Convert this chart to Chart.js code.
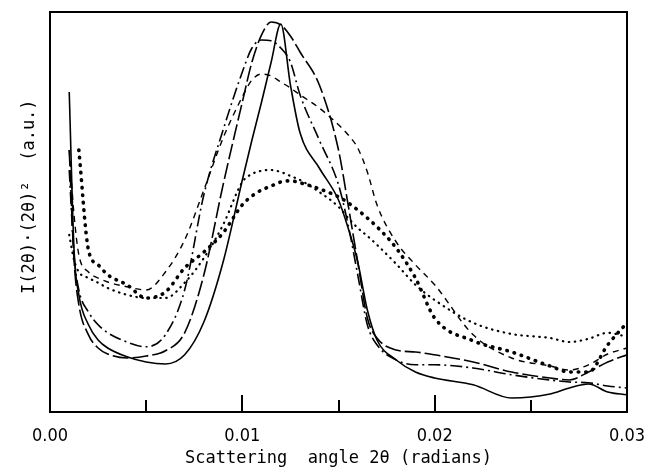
<!DOCTYPE html>
<html>
<head>
<meta charset="utf-8">
<script src="https://cdn.jsdelivr.net/npm/chart.js@4/dist/chart.umd.min.js"></script>
<style>
  html, body { margin: 0; padding: 0; background: #fff; }
  #wrap { width: 645px; height: 467px; }
</style>
</head>
<body>
<div id="wrap"><canvas id="scatterChart"></canvas></div>
<script>
// --- DATA (intensity in arbitrary units, 0..100) ---
const angles = [0.001, 0.00125, 0.0015, 0.002, 0.0025, 0.003, 0.004, 0.005, 0.006, 0.007,
                0.008, 0.009, 0.010, 0.0105, 0.011, 0.0115, 0.012, 0.0125, 0.013, 0.014,
                0.015, 0.0155, 0.016, 0.0165, 0.017, 0.018, 0.019, 0.020, 0.022, 0.024,
                0.026, 0.027, 0.028, 0.029, 0.030];

const solidCurve = [80, 40.5, 29.3, 21.8, 18, 16, 13.8, 12.5, 12, 14.3,
                    22.5, 37.5, 58, 68, 77.5, 87.5, 97, 81.8, 69.8, 61,
                    53, 46, 37.5, 25.5, 18, 13, 10, 8.5, 6.8, 3.5,
                    4.5, 6, 7, 5, 4.3];

const longDashCurve = [65.5, 38, 26.8, 19.3, 16, 14.5, 13.5, 14, 15.3, 19.8,
                       34.3, 56.8, 77.5, 87.5, 94.3, 97.5, 96.8, 94, 90, 81.8,
                       65.5, 51.8, 37.5, 23.5, 18.5, 15.5, 15, 14.3, 12.5, 10,
                       8.5, 8, 10, 12.5, 14.3];

const dashDotCurve = [60.5, 39.3, 30.5, 25, 21.8, 19.8, 17.5, 16.3, 19.3, 30.5,
                      54.3, 70.5, 85, 91, 93, 92.8, 91, 87.5, 79.3, 68,
                      56.8, 46.8, 34.3, 21.8, 16.8, 13, 11.8, 11.8, 11, 9.3,
                      8, 7.5, 7.3, 6.5, 6];

const shortDashCurve = [65.5, 49.3, 39.3, 35, 33.5, 32.5, 31.3, 30.5, 35, 43,
                        55.5, 68.5, 78.8, 83, 84.5, 84, 82.5, 81, 79.3, 76,
                        71.8, 69.3, 66, 60, 51.8, 42.5, 36.8, 31.8, 19.3, 13.5,
                        11.5, 10.5, 11.8, 14.5, 16];

const fineDotCurve = [44.3, 38, 35, 33.5, 32.3, 31, 29.3, 28.5, 28.5, 32.3,
                      38.5, 46.8, 57.5, 59.5, 60.3, 60.5, 60, 59, 58, 55,
                      51.3, 48.5, 46, 44, 41.8, 37, 31.8, 28, 22.3, 19.5,
                      18.5, 17.5, 18.3, 19.8, 18.8];

const heavyDotCurve = [null, null, 65.5, 40.5, 36.8, 34.3, 31.8, 28.5, 30, 36,
                       40, 44.8, 51.8, 54, 55.5, 56.5, 57.5, 57.8, 57.3, 55.8,
                       53.8, 52.3, 50.5, 48.5, 46.3, 41, 33.5, 23.5, 17.8, 15,
                       11.5, 10, 10, 16.8, 22.3];

const xTickStep = 0.005;

document.addEventListener('DOMContentLoaded', () => {
    const toPoints = values => angles.map((a, i) => ({ x: a, y: values[i] }));

    // --- FRAME AND INWARD TICK MARKS ---
    const frameTicks = {
        id: 'frameTicks',
        afterDraw(chart) {
            const { ctx, chartArea, scales } = chart;
            const { left, right, top, bottom } = chartArea;
            const x = scales.x;
            ctx.save();
            ctx.strokeStyle = '#000';
            ctx.lineWidth = 2;
            ctx.strokeRect(left, top, right - left, bottom - top);
            x.ticks.forEach(t => {
                if (t.value <= x.min + 1e-9 || t.value >= x.max - 1e-9) return;
                const px = Math.round(x.getPixelForValue(t.value));
                const major = t.label !== '';
                ctx.beginPath();
                ctx.moveTo(px, bottom);
                ctx.lineTo(px, bottom - (major ? 17 : 12));
                ctx.stroke();
            });
            ctx.restore();
        }
    };

    const lineStyle = (label, values, dash, width, cap) => ({
        label: label,
        data: toPoints(values),
        borderColor: '#000',
        borderWidth: width,
        borderDash: dash,
        borderCapStyle: cap || 'butt',
        pointRadius: 0,
        fill: false,
        cubicInterpolationMode: 'monotone',
        spanGaps: false
    });

    new Chart(document.getElementById('scatterChart'), {
        type: 'line',
        data: {
            datasets: [
                lineStyle('solid', solidCurve, [], 1.6),
                lineStyle('long dash', longDashCurve, [16, 4], 1.6),
                lineStyle('dash dot', dashDotCurve, [12, 4, 2, 4], 1.6),
                lineStyle('short dash', shortDashCurve, [6, 5], 1.4),
                lineStyle('fine dots', fineDotCurve, [0.5, 5.5], 2.2, 'round'),
                lineStyle('heavy dots', heavyDotCurve, [0.5, 7], 3.6, 'round')
            ]
        },
        options: {
            responsive: true,
            maintainAspectRatio: false,
            animation: false,
            layout: { padding: { top: 12, right: 18, left: 0, bottom: 0 } },
            plugins: {
                legend: { display: false },
                tooltip: { enabled: false }
            },
            scales: {
                x: {
                    type: 'linear',
                    min: 0,
                    max: 0.03,
                    grid: { display: false, drawTicks: false },
                    border: { display: false },
                    ticks: {
                        stepSize: xTickStep,
                        autoSkip: false,
                        maxRotation: 0,
                        padding: 14,
                        color: '#000',
                        font: { family: "'Liberation Sans Narrow', 'DejaVu Sans Condensed', sans-serif", size: 18 },
                        callback: v => Math.abs(v * 100 - Math.round(v * 100)) < 1e-6 ? v.toFixed(2) : ''
                    },
                    title: {
                        display: true,
                        text: 'Scattering  angle 2θ (radians)',
                        color: '#000',
                        font: { family: "'DejaVu Sans Mono', monospace", size: 17, lineHeight: 1 },
                        padding: { top: 0, bottom: 0 }
                    },
                    afterFit: scale => {
                        scale.height = 55;
                        scale.paddingLeft = 0;
                        scale.paddingRight = 0;
                    }
                },
                y: {
                    min: 0,
                    max: 100,
                    grid: { display: false, drawTicks: false },
                    border: { display: false },
                    ticks: { display: false },
                    title: {
                        display: true,
                        text: '   I(2θ)·(2θ)²  (a.u.)',
                        color: '#000',
                        font: { family: "'DejaVu Sans Mono', monospace", size: 17 },
                        padding: { top: 19, bottom: 0 }
                    },
                    afterFit: scale => { scale.width = 50; }
                }
            }
        },
        plugins: [frameTicks]
    });
});
</script>
</body>
</html>
